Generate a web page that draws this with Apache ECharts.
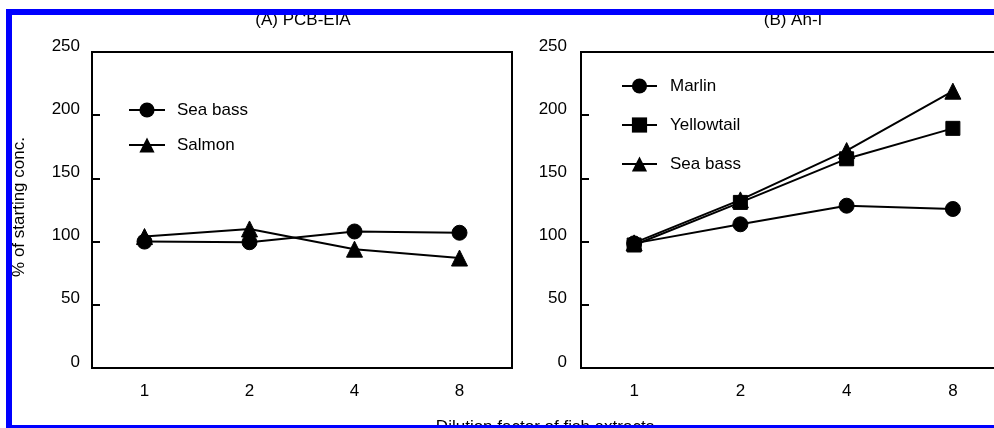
<!DOCTYPE html>
<html>
<head>
<meta charset="utf-8">
<script src="https://cdn.jsdelivr.net/npm/echarts@6/dist/echarts.min.js"></script>
<style>
html,body{margin:0;padding:0;background:#fff;overflow:hidden;}
#chart{width:994px;height:428px;}
</style>
</head>
<body>
<div id="chart"></div>
<script>
// ---- data ----
const dilutionFactors = ['1', '2', '4', '8'];
const yTicks = [0, 50, 100, 150, 200, 250];

const panelATitle = '(A) PCB-EIA';
const panelBTitle = '(B) Ah-I';
const yAxisTitle = '% of starting conc.';
const xAxisTitle = 'Dilution factor of fish extracts';

const panelANames = ['Sea bass', 'Salmon'];
const pcbSeaBass = [100, 99.5, 108, 107];
const pcbSalmon = [104, 110, 94, 87];

const panelBNames = ['Marlin', 'Yellowtail', 'Sea bass'];
const ahMarlin = [98.6, 113.7, 128.4, 125.8];
const ahYellowtail = [97.3, 131, 165.5, 189.6];
const ahSeaBass = [99, 133, 172, 219];

// ---- chart ----
const FONT = 'Liberation Sans, Arial, sans-serif';
const chart = echarts.init(document.getElementById('chart'), null, {renderer: 'canvas'});

function xAxis(gi) {
  return {
    type: 'category', gridIndex: gi, data: dilutionFactors, boundaryGap: true,
    axisLine: {lineStyle: {color: '#000', width: 2}},
    axisTick: {inside: true, length: 8, alignWithLabel: true, lineStyle: {color: '#000', width: 2}},
    axisLabel: {color: '#000', fontSize: 17, fontFamily: FONT, margin: 15},
    splitLine: {show: false}
  };
}
function yAxis(gi, margin) {
  return {
    type: 'value', gridIndex: gi, min: yTicks[0], max: yTicks[yTicks.length - 1], interval: 50,
    axisLine: {show: true, lineStyle: {color: '#000', width: 2}},
    axisTick: {show: true, inside: true, length: 8, lineStyle: {color: '#000', width: 2}},
    axisLabel: {color: '#000', fontSize: 17, fontFamily: FONT, margin: margin, verticalAlign: 'bottom', lineHeight: 12},
    splitLine: {show: false}
  };
}
function lineSeries(name, prefix, data, gi, symbol, size) {
  return {
    type: 'line', name: prefix + name, xAxisIndex: gi, yAxisIndex: gi, data: data,
    symbol: symbol, symbolSize: size, showSymbol: true,
    lineStyle: {color: '#000', width: 2},
    itemStyle: {color: '#000', borderColor: '#000'},
    animation: false, z: 3
  };
}
const stripPrefix = n => n.replace(/^[AB]\|/, '');

const option = {
  backgroundColor: '#fff',
  animation: false,
  grid: [
    {left: 92, top: 52, width: 420, height: 316, outerBoundsMode: 'none', containLabel: false, show: true, borderColor: '#000', borderWidth: 2, backgroundColor: 'transparent'},
    {left: 581, top: 52, width: 425, height: 316, outerBoundsMode: 'none', containLabel: false, show: true, borderColor: '#000', borderWidth: 2, backgroundColor: 'transparent'}
  ],
  xAxis: [xAxis(0), xAxis(1)],
  yAxis: [yAxis(0, 12), yAxis(1, 14)],
  legend: [
    {
      orient: 'vertical', left: 123, top: 95, itemWidth: 36, itemHeight: 19, itemGap: 15,
      data: panelANames.map(n => 'A|' + n), formatter: stripPrefix, selectedMode: false,
      textStyle: {color: '#000', fontSize: 17, fontFamily: FONT, lineHeight: 20, padding: [0, 0, 0, 7]}
    },
    {
      orient: 'vertical', left: 616, top: 71, itemWidth: 35, itemHeight: 19, itemGap: 19,
      data: panelBNames.map(n => 'B|' + n), formatter: stripPrefix, selectedMode: false,
      textStyle: {color: '#000', fontSize: 17, fontFamily: FONT, lineHeight: 20, padding: [0, 0, 0, 8]}
    }
  ],
  series: [
    lineSeries(panelANames[0], 'A|', pcbSeaBass, 0, 'circle', 15),
    lineSeries(panelANames[1], 'A|', pcbSalmon, 0, 'triangle', 16),
    lineSeries(panelBNames[0], 'B|', ahMarlin, 1, 'circle', 15),
    lineSeries(panelBNames[1], 'B|', ahYellowtail, 1, 'rect', 14),
    lineSeries(panelBNames[2], 'B|', ahSeaBass, 1, 'triangle', 16)
  ],
  graphic: [
    {type: 'text', z: 10, style: {text: panelATitle, x: 303, y: 20, align: 'center', verticalAlign: 'middle', fill: '#000', font: '17px ' + FONT}},
    {type: 'text', z: 10, style: {text: panelBTitle, x: 793, y: 20, align: 'center', verticalAlign: 'middle', fill: '#000', font: '17px ' + FONT}},
    {type: 'text', z: 10, rotation: Math.PI / 2, x: 19, y: 207, style: {text: yAxisTitle, x: 0, y: 0, align: 'center', verticalAlign: 'middle', fill: '#000', font: '17px ' + FONT}},
    {type: 'text', z: 10, style: {text: xAxisTitle, x: 545, y: 427, align: 'center', verticalAlign: 'middle', fill: '#000', font: '17px ' + FONT}},
    // blue frame
    {type: 'rect', z: 100, shape: {x: 6, y: 9, width: 1000, height: 6}, style: {fill: '#0000ff'}},
    {type: 'rect', z: 100, shape: {x: 6, y: 9, width: 6, height: 420}, style: {fill: '#0000ff'}},
    {type: 'rect', z: 100, shape: {x: 6, y: 425, width: 1000, height: 4}, style: {fill: '#0000ff'}}
  ]
};
chart.setOption(option);
</script>
</body>
</html>
